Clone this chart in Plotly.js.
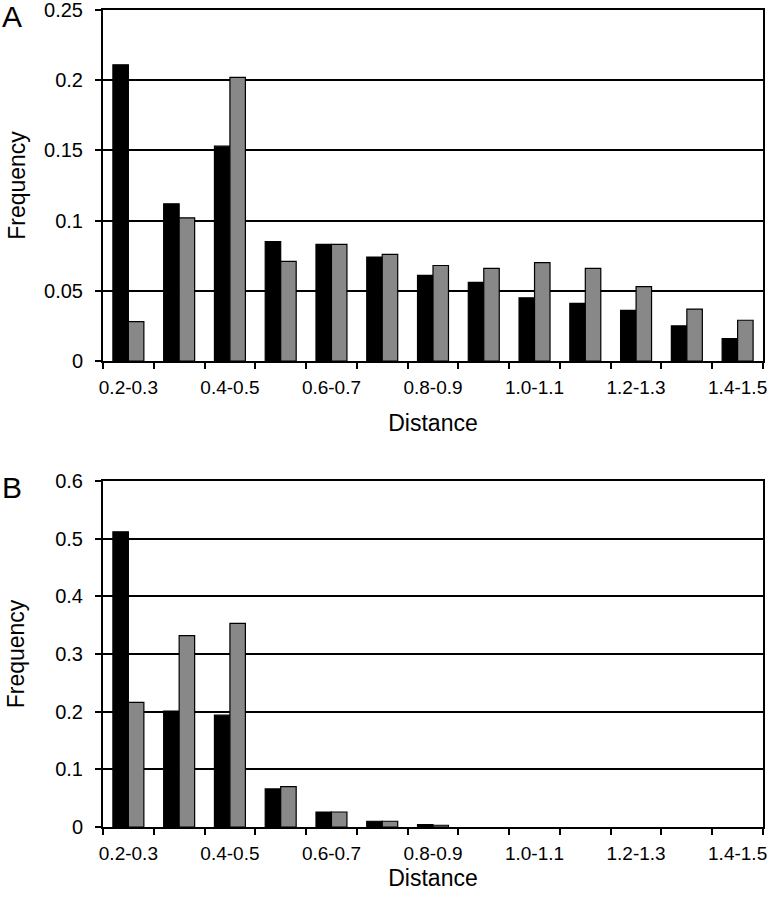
<!DOCTYPE html>
<html>
<head>
<meta charset="utf-8">
<script src="https://cdn.plot.ly/plotly-3.0.1.min.js"></script>
<style>body{margin:0;background:#fff}</style>
</head>
<body>
<div id="chart" style="width:771px;height:899px"></div>
<script>
var distance_bins = ['0.2-0.3', '0.3-0.4', '0.4-0.5', '0.5-0.6', '0.6-0.7', '0.7-0.8', '0.8-0.9',
  '0.9-1.0', '1.0-1.1', '1.1-1.2', '1.2-1.3', '1.3-1.4', '1.4-1.5'];
var tick_labels = ['0.2-0.3', '', '0.4-0.5', '', '0.6-0.7', '', '0.8-0.9',
  '', '1.0-1.1', '', '1.2-1.3', '', '1.4-1.5'];

// panel A
var freq_a_black = [0.211, 0.112, 0.153, 0.085, 0.083, 0.074, 0.061, 0.056, 0.045, 0.041, 0.036, 0.025, 0.016];
var freq_a_gray = [0.028, 0.102, 0.202, 0.071, 0.083, 0.076, 0.068, 0.066, 0.070, 0.066, 0.053, 0.037, 0.029];

// panel B
var freq_b_black = [0.512, 0.201, 0.194, 0.066, 0.026, 0.010, 0.004, 0, 0, 0, 0, 0, 0];
var freq_b_gray = [0.216, 0.332, 0.353, 0.070, 0.026, 0.010, 0.003, 0, 0, 0, 0, 0, 0];

var font_family = '"Liberation Sans", Arial, Helvetica, sans-serif';

function barTrace(y, color, xa, ya) {
  // empty bins get no outline, so nothing is drawn for them
  var widths = y.map(function (v) { return v > 0 ? 1.2 : 0; });
  return {
    x: distance_bins,
    y: y,
    type: 'bar',
    xaxis: xa,
    yaxis: ya,
    marker: {color: color, line: {color: '#000', width: widths}},
    hoverinfo: 'x+y'
  };
}

var data = [
  barTrace(freq_a_black, '#000000', 'x', 'y'),
  barTrace(freq_a_gray, '#888888', 'x', 'y'),
  barTrace(freq_b_black, '#000000', 'x2', 'y2'),
  barTrace(freq_b_gray, '#888888', 'x2', 'y2')
];

function xAxis(anchor, standoff) {
  return {
    anchor: anchor,
    type: 'category',
    tickmode: 'array',
    tickvals: distance_bins,
    ticktext: tick_labels,
    tickson: 'boundaries',
    tickangle: 0,
    ticks: 'outside',
    ticklen: 6,
    tickwidth: 2,
    tickcolor: '#000',
    showline: true,
    linewidth: 2,
    linecolor: '#000',
    mirror: true,
    showgrid: false,
    ticklabelstandoff: 8,
    ticklabeloverflow: 'allow',
    tickfont: {size: 19, color: '#000'},
    title: {text: 'Distance', font: {size: 23, color: '#000'}, standoff: standoff}
  };
}

function yAxis(anchor, domain, range, dtick, standoff) {
  return {
    anchor: anchor,
    domain: domain,
    range: range,
    dtick: dtick,
    ticks: 'outside',
    ticklen: 6,
    tickwidth: 2,
    tickcolor: '#000',
    showline: true,
    linewidth: 2,
    linecolor: '#000',
    mirror: true,
    showgrid: true,
    gridcolor: '#000',
    gridwidth: 2,
    zeroline: false,
    ticklabelstandoff: 8,
    ticklabeloverflow: 'allow',
    tickfont: {size: 20, color: '#000'},
    title: {text: 'Frequency', font: {size: 23, color: '#000'}, standoff: standoff}
  };
}

var layout = {
  width: 771,
  height: 899,
  margin: {l: 103, r: 8, t: 10, b: 72},
  paper_bgcolor: '#fff',
  plot_bgcolor: '#fff',
  font: {family: font_family, color: '#000'},
  showlegend: false,
  barmode: 'group',
  bargap: 0.39,
  bargroupgap: 0,
  xaxis: xAxis('y', 18),
  yaxis: yAxis('x', [0.5704, 1], [0, 0.25001], 0.05, 12),
  xaxis2: xAxis('y2', 7),
  yaxis2: yAxis('x2', [0, 0.4235], [0, 0.60002], 0.1, 24),
  annotations: [
    {text: 'A', xref: 'paper', yref: 'paper', x: 0, y: 1, xshift: -103, yshift: 12,
      xanchor: 'left', yanchor: 'top', showarrow: false, font: {size: 30}},
    {text: 'B', xref: 'paper', yref: 'paper', x: 0, y: 0.4235, xshift: -103, yshift: 12,
      xanchor: 'left', yanchor: 'top', showarrow: false, font: {size: 30}}
  ]
};

Plotly.newPlot('chart', data, layout, {displayModeBar: false, responsive: false});
</script>
</body>
</html>
